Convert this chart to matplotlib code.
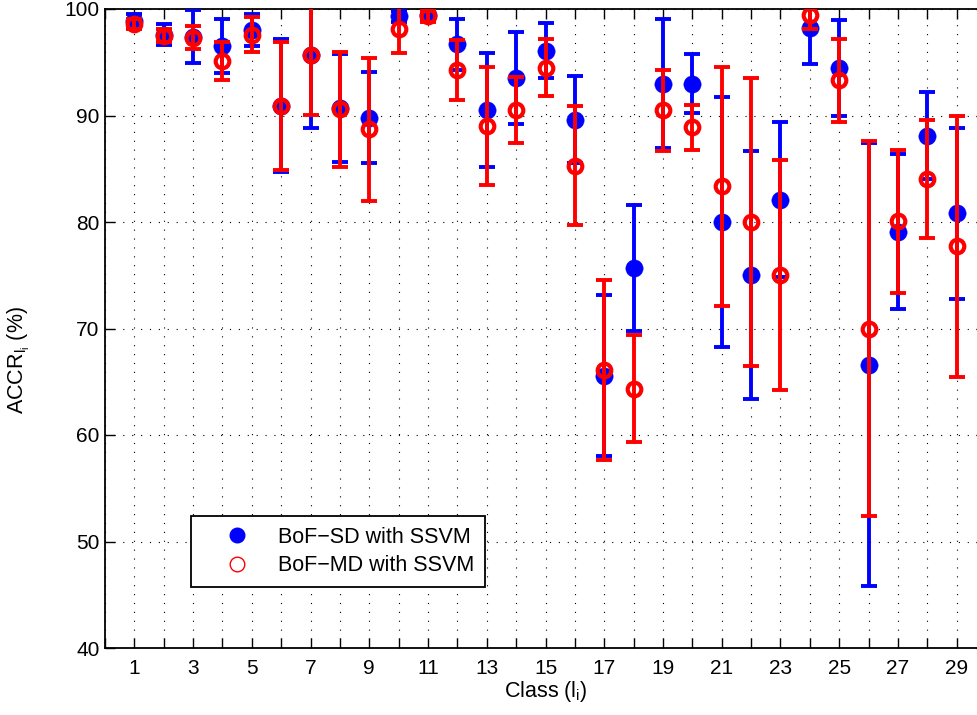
import matplotlib
matplotlib.use("Agg")
import matplotlib.pyplot as plt
from matplotlib.lines import Line2D
import numpy as np

plt.rcParams['font.family'] = ['Liberation Sans', 'DejaVu Sans']
plt.rcParams['mathtext.fontset'] = 'custom'
plt.rcParams['mathtext.rm'] = 'Liberation Sans'
plt.rcParams['mathtext.it'] = 'Liberation Sans'

classes = list(range(1, 30))
sd_mean = [98.9, 97.6, 97.4, 96.5, 98.0, 90.9, 95.7, 90.7, 89.8, 99.3,
           99.4, 96.7, 90.55, 93.5, 96.1, 89.6, 65.55, 75.7, 93.0, 93.0,
           80.0, 75.05, 82.1, 98.25, 94.45, 66.6, 79.1, 88.1, 80.8]
sd_err = [0.6, 1.0, 2.5, 2.55, 1.5, 6.25, 6.85, 5.1, 4.3, 0.5,
          0.4, 2.4, 5.35, 4.3, 2.6, 4.1, 7.55, 5.9, 6.05, 2.8,
          11.7, 11.65, 7.3, 3.4, 4.5, 20.8, 7.3, 4.1, 8.0]
md_mean = [98.6, 97.5, 97.3, 95.1, 97.6, 90.9, 95.7, 90.6, 88.7, 98.1,
           99.3, 94.3, 89.0, 90.55, 94.5, 85.3, 66.1, 64.35, 90.5, 88.9,
           83.35, 80.0, 75.0, 99.4, 93.3, 70.0, 80.05, 84.05, 77.7]
md_err = [0.5, 0.6, 1.1, 1.8, 1.65, 6.0, 5.65, 5.4, 6.7, 2.2,
          0.5, 2.8, 5.55, 3.1, 2.7, 5.55, 8.45, 5.05, 3.8, 2.1,
          11.25, 13.5, 10.8, 1.3, 3.9, 17.6, 6.75, 5.55, 12.3]
series_labels = ['BoF\u2212SD with SSVM', 'BoF\u2212MD with SSVM']
yticks = [40, 50, 60, 70, 80, 90, 100]

BLUE = '#0000ff'
RED = '#ff0000'
FS = 15.5

fig = plt.figure(figsize=(9.77, 7.15), dpi=100)
ax = fig.add_axes([105/977, 1 - 648/715, 881/977, 639/715])

ax.errorbar(classes, sd_mean, yerr=sd_err, fmt='none', ecolor=BLUE,
            elinewidth=2.8, capsize=5.8, capthick=2.8, zorder=3)
ax.plot(classes, sd_mean, linestyle='none', marker='o', markersize=12.5,
        markerfacecolor=BLUE, markeredgecolor=BLUE, markeredgewidth=0.3, zorder=3.5)
ax.errorbar(classes, md_mean, yerr=md_err, fmt='none', ecolor=RED,
            elinewidth=2.8, capsize=5.8, capthick=2.8, zorder=4)
ax.plot(classes, md_mean, linestyle='none', marker='o', markersize=9.8,
        markerfacecolor='none', markeredgecolor=RED, markeredgewidth=3.0, zorder=5)

ax.set_xlim(0, 30)
ax.set_ylim(40, 100)
ax.set_xticks(range(0, 31))
ax.set_xticklabels([str(i) if (i % 2 == 1 and i < 30) else '' for i in range(0, 31)])
ax.set_yticks(yticks)
ax.tick_params(direction='in', length=7, width=1.0, top=True, right=True,
               labelsize=15, colors='black')
ax.tick_params(axis='x', pad=8)
ax.tick_params(axis='y', pad=4)
ax.grid(True, color='black', linestyle=(0, (1, 7)), linewidth=0.8)
ax.set_axisbelow(True)
for s in ax.spines.values():
    s.set_linewidth(1.3)

ax.set_xlabel(r'Class (l$_{\mathrm{i}}$)', fontsize=FS, labelpad=1)
ax.set_ylabel(r'ACCR$_{\mathrm{l}_{\mathrm{i}}}$ (%)', fontsize=FS)
ax.yaxis.set_label_coords(-0.083, 0.45)

handles = [
    Line2D([], [], linestyle='none', marker='o', markersize=10.5,
           markerfacecolor=BLUE, markeredgecolor=BLUE),
    Line2D([], [], linestyle='none', marker='o', markersize=10.5,
           markerfacecolor='none', markeredgecolor=RED, markeredgewidth=1.0),
]
leg = ax.legend(handles, series_labels, loc='lower left',
                bbox_to_anchor=(0.0976, 0.0955), borderaxespad=0,
                fontsize=FS, fancybox=False, framealpha=1, edgecolor='black',
                handletextpad=0.25, borderpad=0.5, labelspacing=0.35,
                handlelength=3.3)
leg.get_frame().set_linewidth(1.3)

fig.savefig('out.png', dpi=100)
